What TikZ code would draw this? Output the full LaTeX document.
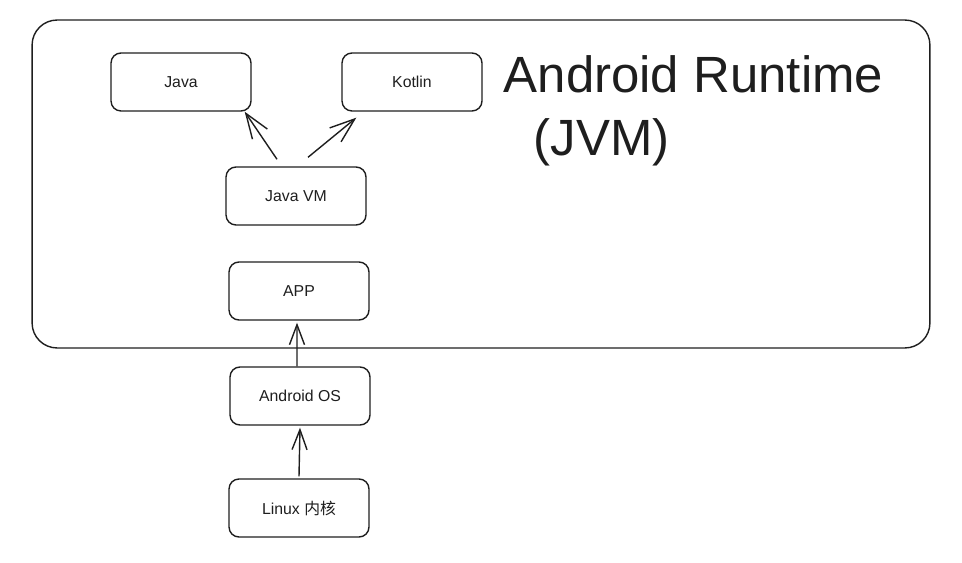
\documentclass[tikz,border=0pt]{standalone}
\usepackage{fontspec}
\setmainfont{Liberation Sans}
\newfontfamily\cjk{Noto Sans CJK SC}
\usetikzlibrary{arrows.meta}
\definecolor{ink}{HTML}{1E1E1E}

\begin{document}
\begin{tikzpicture}[x=0.02cm, y=-0.02cm, line width=0.8pt,
  layer/.style={draw=ink, rounded corners=0.2cm, minimum width=2.8cm, minimum height=1.16cm,
    text=ink, font=\fontsize{9}{11}\selectfont},
  arr/.style={draw=ink, -{Straight Barb[length=0.5cm, width=0.36cm]}},
  arrs/.style={draw=ink, -{Straight Barb[length=0.4cm, width=0.3cm]}}]
\useasboundingbox (0,0) rectangle (962,563);

% runtime frame
\node[draw=ink, rounded corners=0.5cm, minimum width=17.96cm, minimum height=6.56cm] (runtime) at (481,184) {};
\node[anchor=north west, inner sep=0pt, align=left, text=ink, font=\fontsize{29}{36}\selectfont] (title) at (503,55)
  {Android Runtime\\\hspace{0.6cm}(JVM)};

\node[layer] (java) at (181,82) {Java};
\node[layer] (kotlin) at (412,82) {Kotlin};
\node[layer] (jvm) at (296,196) {Java VM};
\node[layer] (app) at (299,291) {APP};

% below the frame
\node[layer] (aos) at (300,396) {Android OS};
\node[layer] (linux) at (299,508) {Linux {\cjk 内核}};

\draw[arr] ([shift={(-19,-7)}]jvm.north) -- ([shift={(-7,0)}]java.south east);
\draw[arr] ([shift={(12,-9)}]jvm.north) -- ([shift={(15,6)}]kotlin.south west);
\draw[arrs] ([xshift=-0.06cm]aos.north) -- ([xshift=-0.04cm, yshift=-0.04cm]app.south);
\draw[arrs] ([yshift=0.04cm]linux.north) -- ([yshift=-0.04cm]aos.south);
\end{tikzpicture}
\end{document}
